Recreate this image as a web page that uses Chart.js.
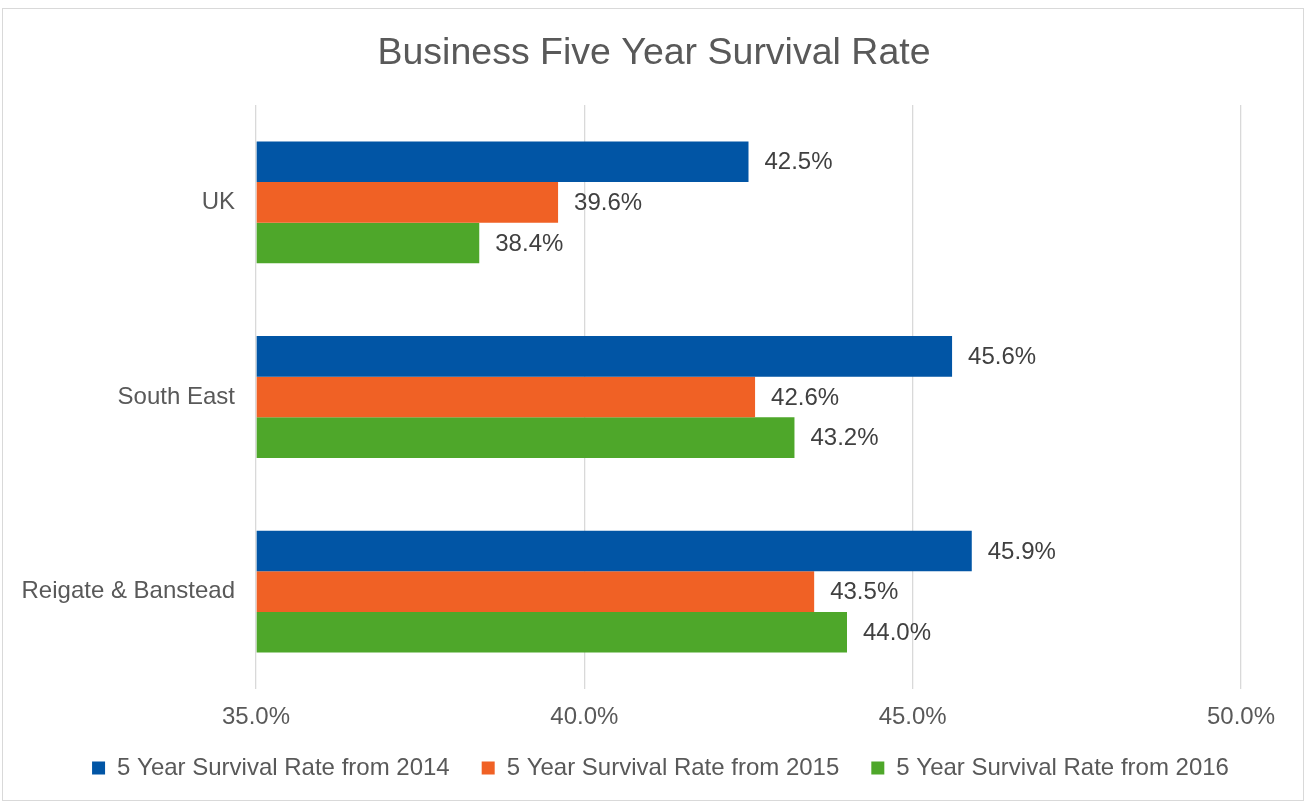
<!DOCTYPE html>
<html>
<head>
<meta charset="utf-8">
<script src="https://cdn.jsdelivr.net/npm/chart.js@4/dist/chart.umd.min.js"></script>
<style>
  html, body { margin: 0; padding: 0; background: #ffffff; }
  #wrap { position: absolute; left: 2px; top: 8px; width: 1300px; height: 791px; border: 1px solid #d9d9d9; background: #fff; }
  canvas { display: block; }
</style>
</head>
<body>
<div id="wrap"><canvas id="c" width="1300" height="791"></canvas></div>
<script>
const categories = ['UK', 'South East', 'Reigate & Banstead'];
const seriesNames = ['5 Year Survival Rate from 2014', '5 Year Survival Rate from 2015', '5 Year Survival Rate from 2016'];
const rate2014 = [42.5, 45.6, 45.9];
const rate2015 = [39.6, 42.6, 43.5];
const rate2016 = [38.4, 43.2, 44.0];
const xTicks = [35, 40, 45, 50];

const colors = ['#0155a5', '#f06125', '#4ea72a'];
const FONT = '"Liberation Sans", Arial, sans-serif';

const labelPlugin = {
  id: 'barLabels',
  afterDatasetsDraw(chart) {
    const ctx = chart.ctx;
    ctx.save();
    ctx.font = '24px ' + FONT;
    ctx.fillStyle = '#404040';
    ctx.textAlign = 'left';
    ctx.textBaseline = 'middle';
    chart.data.datasets.forEach((ds, i) => {
      const meta = chart.getDatasetMeta(i);
      meta.data.forEach((el, j) => {
        ctx.fillText(ds.data[j].toFixed(1) + '%', el.x + 16, el.y + 1);
      });
    });
    ctx.restore();
  }
};

const boxShift = {
  id: 'boxShift',
  afterLayout(chart) {
    const lg = chart.legend;
    if (lg) {
      const d = 657.5 - (lg.left + lg.right) / 2;
      lg.left += d; lg.right += d;
    }
    const tb = chart.titleBlock;
    if (tb) {
      const d2 = 651 - (tb.left + tb.right) / 2;
      tb.left += d2; tb.right += d2;
    }
  }
};

new Chart(document.getElementById('c'), {
  type: 'bar',
  data: {
    labels: categories,
    datasets: [
      { label: seriesNames[0], data: rate2014, backgroundColor: colors[0] },
      { label: seriesNames[1], data: rate2015, backgroundColor: colors[1] },
      { label: seriesNames[2], data: rate2016, backgroundColor: colors[2] }
    ]
  },
  options: {
    indexAxis: 'y',
    responsive: false,
    animation: false,
    datasets: { bar: { categoryPercentage: 0.626, barPercentage: 1.0, base: 35 } },
    layout: { padding: { left: 0, right: 62, top: 0, bottom: 10 } },
    scales: {
      x: {
        min: 35, max: 50,
        afterBuildTicks(axis) { axis.ticks = xTicks.map(v => ({ value: v })); },
        afterFit(axis) { axis.height = 35; },
        grid: { color: '#d9d9d9', lineWidth: 1.3, drawTicks: false },
        border: { display: false },
        ticks: {
          padding: 14,
          color: '#595959',
          font: { size: 24, family: FONT },
          callback: v => Number(v).toFixed(1) + '%'
        }
      },
      y: {
        afterFit(axis) { axis.width = 253; },
        grid: { display: false, drawTicks: false },
        border: { display: false },
        ticks: {
          padding: 21,
          color: '#595959',
          font: { size: 24, family: FONT }
        }
      }
    },
    plugins: {
      title: {
        display: true,
        text: 'Business Five Year Survival Rate',
        color: '#595959',
        font: { size: 37.5, weight: 'normal', family: FONT },
        padding: { top: 22, bottom: 29 }
      },
      legend: {
        position: 'bottom',
        labels: {
          boxWidth: 13, boxHeight: 13,
          padding: 32,
          color: '#595959',
          font: { size: 24, family: FONT }
        }
      },
      tooltip: { enabled: false }
    }
  },
  plugins: [labelPlugin, boxShift]
});
</script>
</body>
</html>
